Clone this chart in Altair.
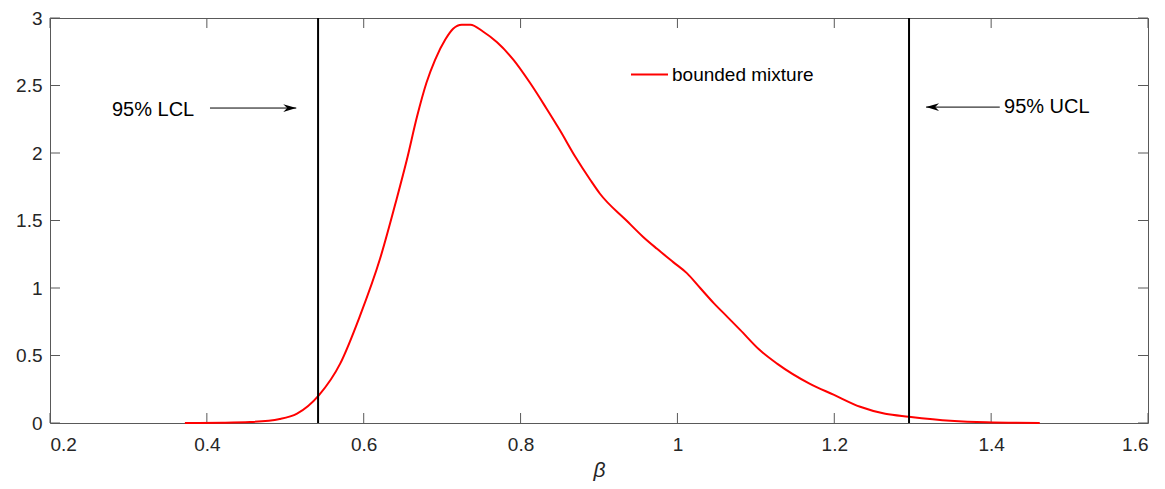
import altair as alt
import pandas as pd

# Density curve
beta_x = [0.372, 0.42, 0.455, 0.493, 0.515, 0.543, 0.570, 0.595, 0.621, 0.642, 0.655,
          0.668, 0.680, 0.691, 0.704, 0.714, 0.725, 0.736, 0.752, 0.770, 0.791, 0.812,
          0.833, 0.850, 0.870, 0.889, 0.901, 0.935, 0.956, 0.974, 0.995, 1.012, 1.029,
          1.046, 1.063, 1.080, 1.105, 1.127, 1.169, 1.199, 1.233, 1.265, 1.295, 1.348, 1.394, 1.462]
density = [0.0, 0.002, 0.007, 0.03, 0.07, 0.207, 0.44, 0.79, 1.22, 1.66, 1.95,
           2.27, 2.52, 2.69, 2.84, 2.92, 2.95, 2.95, 2.90, 2.82, 2.69, 2.52,
           2.33, 2.17, 1.97, 1.80, 1.70, 1.50, 1.38, 1.29, 1.19, 1.11, 1.00,
           0.89, 0.79, 0.69, 0.54, 0.44, 0.29, 0.21, 0.12, 0.068, 0.047, 0.017, 0.005, 0.0]
series_name = "bounded mixture"

# Confidence limits
limit_x = [0.5418, 1.2953]

# Annotations
ann_text = ["95% LCL", "95% UCL"]
ann_text_x = [0.279, 1.4164]
ann_text_y = [2.32, 2.34]
arrow_tail_x = [0.404, 1.411]
arrow_tip_x = [0.514, 1.317]
arrow_y = [2.333, 2.34]

x_ticks = [0.2, 0.4, 0.6, 0.8, 1.0, 1.2, 1.4, 1.6]
y_ticks = [0, 0.5, 1, 1.5, 2, 2.5, 3]

W, H = 1098, 405
FONT = "Liberation Sans"
AX = "#595959"

xs = alt.Scale(domain=[0.2, 1.6], nice=False, zero=False)
ys = alt.Scale(domain=[0, 3], nice=False, zero=False)

curve_df = pd.DataFrame({"x": beta_x, "y": density, "series": series_name})
lim_df = pd.DataFrame({"x": limit_x})
text_df = pd.DataFrame({"x": ann_text_x, "y": ann_text_y, "t": ann_text})
shaft_rows = []
for i in range(2):
    shaft_rows.append({"id": i, "x": arrow_tail_x[i], "y": arrow_y[i]})
    shaft_rows.append({"id": i, "x": arrow_tip_x[i], "y": arrow_y[i]})
shaft_df = pd.DataFrame(shaft_rows)
xt_df = pd.DataFrame({"x": x_ticks})
yt_df = pd.DataFrame({"y": y_ticks})

curve = alt.Chart(curve_df).mark_line(strokeWidth=2, interpolate="monotone").encode(
    x=alt.X("x:Q", scale=xs, title="β",
            axis=alt.Axis(values=x_ticks, format="~g", grid=False, domain=False,
                          ticks=False, labelFontSize=19, labelFont=FONT, labelColor="#262626",
                          labelPadding=12, titleFont=FONT, titleFontSize=21,
                          titleFontStyle="italic", titleFontWeight="normal",
                          titleColor="#262626", titlePadding=5)),
    y=alt.Y("y:Q", scale=ys, title=None,
            axis=alt.Axis(values=y_ticks, format="~g", grid=False, domain=False,
                          ticks=False, labelFontSize=19, labelFont=FONT, labelColor="#262626",
                          labelPadding=8)),
    color=alt.Color("series:N",
                    scale=alt.Scale(domain=[series_name], range=["#ff0000"]),
                    legend=alt.Legend(orient="none", legendX=580, legendY=37, title=None,
                                      symbolType="stroke", symbolSize=1369,
                                      symbolStrokeWidth=2, labelFontSize=19, labelFont=FONT,
                                      labelColor="#000000", padding=0, labelOffset=3)),
)

limits = alt.Chart(lim_df).mark_rule(color="black", strokeWidth=2).encode(
    x=alt.X("x:Q", scale=xs)
)

shafts = alt.Chart(shaft_df).mark_line(color="black", strokeWidth=1).encode(
    x=alt.X("x:Q", scale=xs), y=alt.Y("y:Q", scale=ys), detail="id:N"
)

heads_r = alt.Chart(pd.DataFrame({"x": [arrow_tip_x[0]], "y": [arrow_y[0]]})).mark_point(
    shape="M0,0 L-2,-0.6 L-1.4,0 L-2,0.6 Z", filled=True, size=169, color="black", opacity=1
).encode(x=alt.X("x:Q", scale=xs), y=alt.Y("y:Q", scale=ys))

heads_l = alt.Chart(pd.DataFrame({"x": [arrow_tip_x[1]], "y": [arrow_y[1]]})).mark_point(
    shape="M0,0 L2,-0.6 L1.4,0 L2,0.6 Z", filled=True, size=169, color="black", opacity=1
).encode(x=alt.X("x:Q", scale=xs), y=alt.Y("y:Q", scale=ys))

labels = alt.Chart(text_df).mark_text(align="left", baseline="middle", fontSize=20,
                                      font=FONT, color="#000000").encode(
    x=alt.X("x:Q", scale=xs), y=alt.Y("y:Q", scale=ys), text="t:N"
)

tb = alt.Chart(xt_df).mark_rule(color=AX, strokeWidth=1).encode(
    x=alt.X("x:Q", scale=xs), y=alt.value(H), y2=alt.value(H - 10))
tt = alt.Chart(xt_df).mark_rule(color=AX, strokeWidth=1).encode(
    x=alt.X("x:Q", scale=xs), y=alt.value(0), y2=alt.value(10))
tl = alt.Chart(yt_df).mark_rule(color=AX, strokeWidth=1).encode(
    y=alt.Y("y:Q", scale=ys), x=alt.value(0), x2=alt.value(10))
tr = alt.Chart(yt_df).mark_rule(color=AX, strokeWidth=1).encode(
    y=alt.Y("y:Q", scale=ys), x=alt.value(W), x2=alt.value(W - 10))

chart = alt.layer(tb, tt, tl, tr, curve, limits, shafts, heads_r, heads_l, labels).properties(
    width=W, height=H,
    autosize=alt.AutoSizeParams(type="none"),
    padding={"left": 42, "top": 10, "right": 9, "bottom": 62},
    background="white",
).configure_view(stroke=AX, strokeWidth=1)

chart.save("out.html", embed_options={"renderer": "svg", "actions": False})
